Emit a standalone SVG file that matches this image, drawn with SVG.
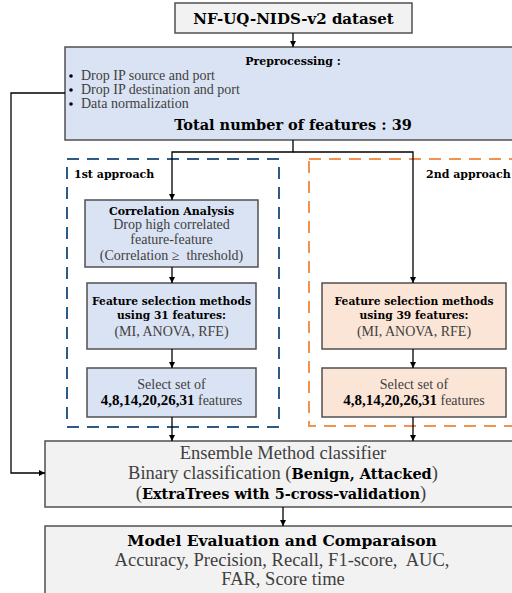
<svg xmlns="http://www.w3.org/2000/svg" width="512" height="593" viewBox="0 0 512 593">
<style>
  text { font-family: "Liberation Serif", "Times New Roman", serif; }
  .b { font-family: "DejaVu Serif", "Liberation Serif", serif; font-weight: bold; fill: #000; }
  .bn { font-family: "Liberation Serif", "Times New Roman", serif; font-weight: bold; fill: #000; }
  .r { fill: #3f3f3f; }
  .box { stroke: #505050; stroke-width: 1.5; }
  .blue { fill: #dae3f3; }
  .orange { fill: #fbe5d6; }
  .grey { fill: #f2f2f2; }
  .con { fill: none; stroke: #000; stroke-width: 1.3; }
  .arr { marker-end: url(#ah); }
</style>
<defs>
  <marker id="ah" markerWidth="8" markerHeight="8" refX="6" refY="3" orient="auto" markerUnits="userSpaceOnUse">
    <path d="M0,0 L6,3 L0,6 Z" fill="#000"/>
  </marker>
</defs>
<rect width="512" height="593" fill="#fff"/>

<g id="approach1">
  <rect x="67" y="159" width="212" height="268" fill="none" stroke="#2e5a88" stroke-width="2" stroke-dasharray="12 8"/>
  <text x="74" y="178" class="b" font-size="11">1st approach</text>
</g>
<g id="approach2">
  <rect x="309" y="159" width="220" height="267" fill="none" stroke="#f4914d" stroke-width="2" stroke-dasharray="12 8"/>
  <text x="426" y="178" class="b" font-size="11">2nd approach</text>
</g>

<g id="dataset">
  <rect x="175" y="3" width="237" height="30" class="box grey"/>
  <text x="293.5" y="24" text-anchor="middle" class="b" font-size="15">NF-UQ-NIDS-v2 dataset</text>
</g>

<g id="preprocessing">
  <rect x="65" y="47" width="460" height="93" class="box blue"/>
  <text x="293" y="65" text-anchor="middle" class="b" font-size="11">Preprocessing :</text>
  <circle cx="71" cy="76" r="1.8" fill="#000"/>
  <circle cx="71" cy="90" r="1.8" fill="#000"/>
  <circle cx="71" cy="104" r="1.8" fill="#000"/>
  <text x="81" y="80" class="r" font-size="14">Drop IP source and port</text>
  <text x="81" y="94" class="r" font-size="14">Drop IP destination and port</text>
  <text x="81" y="108" class="r" font-size="14">Data normalization</text>
  <text x="293" y="130" text-anchor="middle" class="b" font-size="14.5">Total number of features : 39</text>
</g>

<g id="correlation">
  <rect x="85" y="200" width="173" height="67" class="box blue"/>
  <text x="171.5" y="215" text-anchor="middle" class="b" font-size="11">Correlation Analysis</text>
  <text x="171.5" y="229" text-anchor="middle" class="r" font-size="14">Drop high correlated</text>
  <text x="171.5" y="244" text-anchor="middle" class="r" font-size="14">feature-feature</text>
  <text x="171.5" y="260" text-anchor="middle" class="r" font-size="14">(Correlation ≥&#160; threshold)</text>
</g>

<g id="fs1">
  <rect x="87" y="283" width="169" height="66" class="box blue"/>
  <text x="171.5" y="305" text-anchor="middle" class="b" font-size="10.7">Feature selection methods</text>
  <text x="171.5" y="319" text-anchor="middle" class="b" font-size="10.7">using 31 features:</text>
  <text x="171.5" y="336" text-anchor="middle" class="r" font-size="14">(MI, ANOVA, RFE)</text>
</g>

<g id="select1">
  <rect x="87" y="368" width="169" height="49" class="box blue"/>
  <text x="171.5" y="389" text-anchor="middle" class="r" font-size="14">Select set of</text>
  <text x="171.5" y="405" text-anchor="middle" class="r" font-size="14"><tspan class="bn" font-size="15">4,8,14,20,26,31</tspan> features</text>
</g>

<g id="fs2">
  <rect x="322" y="283" width="184" height="66" class="box orange"/>
  <text x="414" y="305" text-anchor="middle" class="b" font-size="10.7">Feature selection methods</text>
  <text x="414" y="319" text-anchor="middle" class="b" font-size="10.7">using 39 features:</text>
  <text x="414" y="336" text-anchor="middle" class="r" font-size="14">(MI, ANOVA, RFE)</text>
</g>

<g id="select2">
  <rect x="322" y="368" width="184" height="49" class="box orange"/>
  <text x="414" y="389" text-anchor="middle" class="r" font-size="14">Select set of</text>
  <text x="414" y="405" text-anchor="middle" class="r" font-size="14"><tspan class="bn" font-size="15">4,8,14,20,26,31</tspan> features</text>
</g>

<g id="ensemble">
  <rect x="45" y="441" width="480" height="66" class="box grey"/>
  <text x="283" y="459" text-anchor="middle" class="r" font-size="18.5">Ensemble Method classifier</text>
  <text x="283" y="479" text-anchor="middle" class="r" font-size="18.5">Binary classification (<tspan class="b" font-size="14.5">Benign, Attacked</tspan>)</text>
  <text x="281" y="499" text-anchor="middle" class="r" font-size="18.5">(<tspan class="b" font-size="14.5">ExtraTrees with 5-cross-validation</tspan>)</text>
</g>

<g id="evaluation">
  <rect x="45" y="526" width="480" height="70" class="box grey"/>
  <text x="282" y="546" text-anchor="middle" class="b" font-size="15.5">Model Evaluation and Comparaison</text>
  <text x="282" y="566" text-anchor="middle" class="r" font-size="18.5">Accuracy, Precision, Recall, F1-score,&#160; AUC,</text>
  <text x="283" y="585" text-anchor="middle" class="r" font-size="18.5">FAR, Score time</text>
</g>

<g id="connectors">
  <path class="con arr" d="M293,33 V47"/>
  <path class="con arr" d="M293,140 V152 H172 V200"/>
  <path class="con arr" d="M293,152 H413 V283"/>
  <path class="con arr" d="M172,267 V283"/>
  <path class="con arr" d="M172,349 V368"/>
  <path class="con arr" d="M172,417 V441"/>
  <path class="con arr" d="M413,349 V368"/>
  <path class="con arr" d="M413,417 V441"/>
  <path class="con arr" d="M65,93 H11 V473 H45"/>
  <path class="con arr" d="M283,507 V526"/>
</g>
</svg>
